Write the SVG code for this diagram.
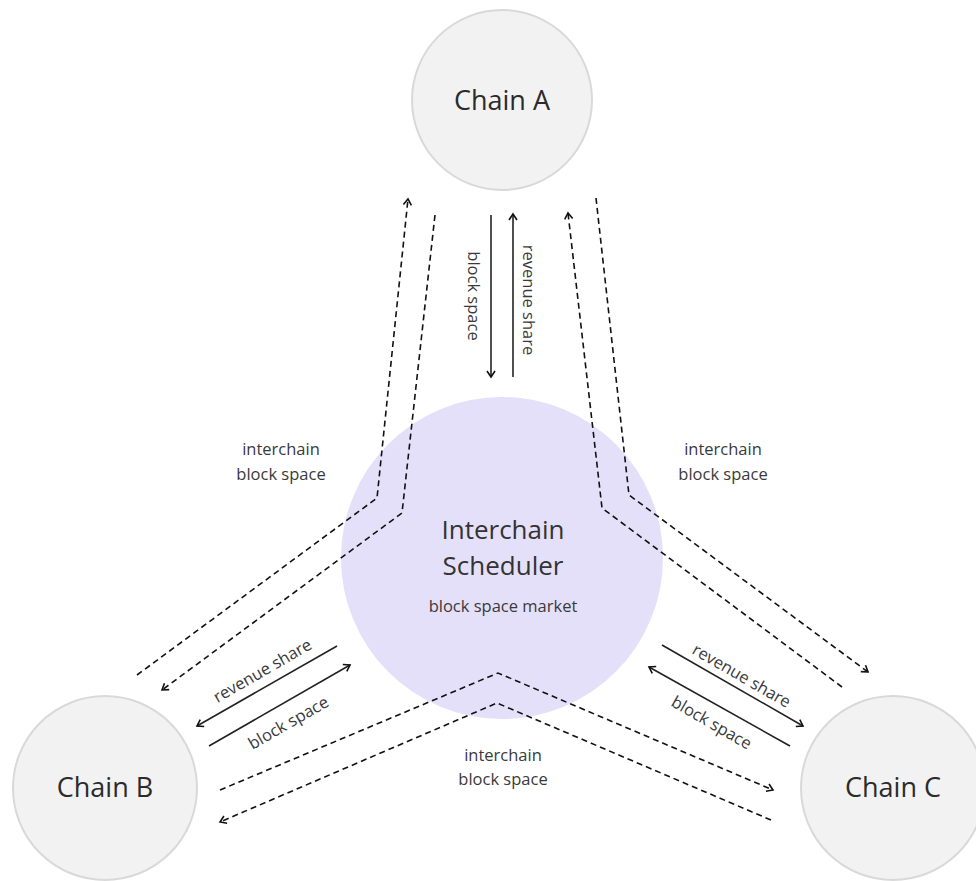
<svg xmlns="http://www.w3.org/2000/svg" width="976" height="881" viewBox="0 0 976 881">
<defs>
<style>
.chain{fill:#f2f2f2;stroke:#d9d9d9;stroke-width:2}
.core{fill:#e5e0fa}
.big{font-family:"Open Sans","Liberation Sans",sans-serif;font-size:27px;fill:#2b2b2b;text-anchor:middle}
.mid{font-family:"Open Sans","Liberation Sans",sans-serif;font-size:26px;fill:#333;text-anchor:middle}
.lbl{font-family:"Open Sans","Liberation Sans",sans-serif;font-size:16.5px;fill:#3a3a3a;text-anchor:middle}
.dash{fill:none;stroke:#111;stroke-width:1.6;stroke-dasharray:6 4;marker-end:url(#ah)}
.solid{fill:none;stroke:#222;stroke-width:1.6;marker-end:url(#ah)}
</style>
<marker id="ah" viewBox="0 0 10 10" refX="8" refY="5" markerWidth="10" markerHeight="10" markerUnits="userSpaceOnUse" orient="auto">
<path d="M2,1 L8,5 L2,9" fill="none" stroke="#111" stroke-width="1.6" stroke-dasharray="none"/>
</marker>
</defs>
<rect width="976" height="881" fill="#ffffff"/>
<g id="scheduler">
<circle class="core" cx="502" cy="558" r="161"/>
<text class="mid" x="503" y="539">Interchain</text>
<text class="mid" x="503" y="575">Scheduler</text>
<text class="lbl" x="503" y="612">block space market</text>
</g>
<g id="chainA">
<circle class="chain" cx="502" cy="100" r="90"/>
<text class="big" x="502" y="110">Chain A</text>
</g>
<g id="chainB">
<circle class="chain" cx="105" cy="788" r="92"/>
<text class="big" x="105" y="797">Chain B</text>
</g>
<g id="chainC">
<circle class="chain" cx="893" cy="788" r="92"/>
<text class="big" x="893" y="797">Chain C</text>
</g>
<g id="connectors">
<line class="solid" x1="491" y1="215" x2="491" y2="377"/>
<line class="solid" x1="513" y1="377" x2="513" y2="214"/>
<path class="dash" d="M137,675 L377,498 L408,199"/>
<path class="dash" d="M435,215 L402,513 L162,690"/>
<path class="dash" d="M842,687 L602,508 L568,213"/>
<path class="dash" d="M596,198 L629,495 L868,672"/>
<path class="dash" d="M220,790 L498,673 L773,790"/>
<path class="dash" d="M771,820 L497,703 L220,822"/>
<line class="solid" x1="337" y1="646" x2="197" y2="726"/>
<line class="solid" x1="209" y1="746" x2="350" y2="665"/>
<line class="solid" x1="662" y1="645" x2="803" y2="726"/>
<line class="solid" x1="790" y1="746" x2="649" y2="667"/>
</g>
<g id="labels">
<text class="lbl" transform="translate(474,296) rotate(90)" dominant-baseline="central">block space</text>
<text class="lbl" transform="translate(529,300) rotate(90)" dominant-baseline="central">revenue share</text>
<text class="lbl" x="281" y="455">interchain</text>
<text class="lbl" x="281" y="480">block space</text>
<text class="lbl" x="723" y="455">interchain</text>
<text class="lbl" x="723" y="480">block space</text>
<text class="lbl" x="503" y="761">interchain</text>
<text class="lbl" x="503" y="785">block space</text>
<text class="lbl" transform="translate(262,670) rotate(-30)" dominant-baseline="central">revenue share</text>
<text class="lbl" transform="translate(288,722) rotate(-30)" dominant-baseline="central">block space</text>
<text class="lbl" transform="translate(742,675) rotate(30)" dominant-baseline="central">revenue share</text>
<text class="lbl" transform="translate(712,722) rotate(30)" dominant-baseline="central">block space</text>
</g>
</svg>
